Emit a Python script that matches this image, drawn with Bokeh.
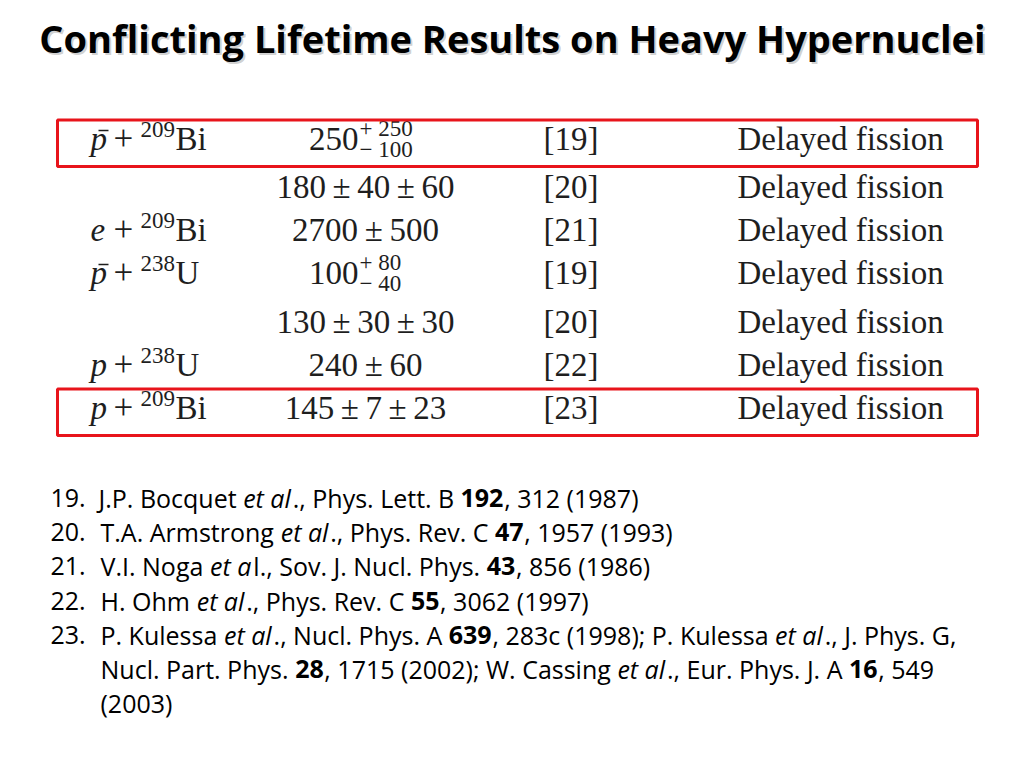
from bokeh.plotting import figure
from bokeh.models import Range1d
from bokeh.core.properties import value
from bokeh.embed import file_html
from bokeh.resources import INLINE

# ---------------- content ----------------
TITLE = "Conflicting Lifetime Results on Heavy Hypernuclei"

projectile = ["p", "", "e", "p", "", "p", "p"]
antiparticle = [True, False, False, True, False, False, False]
mass_number = ["209", "", "209", "238", "", "238", "209"]
target = ["Bi", "", "Bi", "U", "", "U", "Bi"]

lifetime_central = ["250", "180", "2700", "100", "130", "240", "145"]
lifetime_sym_err = [[], ["40", "60"], ["500"], [], ["30", "30"], ["60"], ["7", "23"]]
lifetime_err_up = ["250", "", "", "80", "", "", ""]
lifetime_err_down = ["100", "", "", "40", "", "", ""]

ref_tags = ["19", "20", "21", "19", "20", "22", "23"]
method = ["Delayed fission"] * 7
highlighted_rows = [0, 6]

ref_numbers = ["19.", "20.", "21.", "22.", "23."]
ref_lines = [
    [("J.P. Bocquet ", "n"), ("et al", "i"), ("., Phys. Lett. B ", "n"), ("192", "b"), (", 312 (1987)", "n")],
    [("T.A. Armstrong ", "n"), ("et al", "i"), ("., Phys. Rev. C ", "n"), ("47", "b"), (", 1957 (1993)", "n")],
    [("V.I. Noga ", "n"), ("et a", "i"), ("l., Sov. J. Nucl. Phys. ", "n"), ("43", "b"), (", 856 (1986)", "n")],
    [("H. Ohm ", "n"), ("et al", "i"), ("., Phys. Rev. C ", "n"), ("55", "b"), (", 3062 (1997)", "n")],
    [("P. Kulessa ", "n"), ("et al", "i"), ("., Nucl. Phys. A ", "n"), ("639", "b"),
     (", 283c (1998); P. Kulessa ", "n"), ("et al", "i"), ("., J. Phys. G,", "n")],
    [("Nucl. Part. Phys. ", "n"), ("28", "b"), (", 1715 (2002); W. Cassing ", "n"), ("et al", "i"),
     ("., Eur. Phys. J. A ", "n"), ("16", "b"), (", 549", "n")],
    [("(2003)", "n")],
]

# ---------------- layout ----------------
ROW_BASE = [151, 199, 242, 285, 334, 377, 420]
REF_BASE = [507, 541, 575, 610, 644, 678, 712]
REF_START = [98, 100, 100, 100, 100, 100, 100]
REF_SIZE = 25

SERIF = value("Liberation Serif")
SANS = value("Open Sans")
INK = "#1e1e1e"
THIN = "\u2009"
BASE_FIX = 0.38   # empirical baseline correction (fraction of font size)

# approximate Open Sans advance widths (em) for laying out mixed-style runs
_W = {" ": .260, ",": .245, ".": .266, ";": .266, ":": .266, "(": .296, ")": .296, "-": .322,
      "A": .633, "B": .648, "C": .631, "D": .729, "E": .556, "F": .516, "G": .728, "H": .738,
      "I": .279, "J": .267, "K": .614, "L": .519, "M": .903, "N": .754, "O": .779, "P": .602,
      "R": .618, "S": .549, "T": .553, "U": .728, "V": .595, "W": .920,
      "a": .556, "b": .613, "c": .476, "d": .613, "e": .561, "f": .339, "g": .548, "h": .614,
      "i": .253, "k": .525, "l": .253, "m": .930, "n": .614, "o": .600, "p": .613, "q": .613,
      "r": .408, "s": .477, "t": .353, "u": .614, "v": .501, "w": .778, "y": .501}


def run_width(s, style, size):
    w = sum(_W.get(c, .572) for c in s)
    if style == "b":
        w *= 1.02
    return w * size


p = figure(width=1008, height=752, x_range=Range1d(0, 1008), y_range=Range1d(752, 0),
           output_backend="svg", toolbar_location=None, min_border=0,
           x_axis_location=None, y_axis_location=None, outline_line_color=None,
           background_fill_color="white", border_fill_color="white")
p.xgrid.visible = False
p.ygrid.visible = False


def txt(x, y, s, size, font, style="normal", align="left", color=INK, alpha=1.0):
    p.text(x=[x], y=[y - BASE_FIX * size], text=[s], text_font=font, text_font_size=f"{size}px",
           text_font_style=style, text_align=align, text_baseline="alphabetic",
           text_color=color, text_alpha=alpha)


# title with soft shadow
txt(514, 54, TITLE, 38, value("Open Sans"), "bold", "center", "#888888", 0.4)
txt(512, 52, TITLE, 38, value("Open Sans"), "bold", "center", "#000000")

# table rows
for i, yb in enumerate(ROW_BASE):
    if projectile[i]:
        txt(90, yb, projectile[i], 33, SERIF, "italic")
        if antiparticle[i]:
            p.segment(x0=[98], y0=[yb - 21], x1=[108], y1=[yb - 21], line_color=INK, line_width=1.6)
        txt(113, yb, "+", 35, SERIF)
        txt(140, yb - 13, mass_number[i], 23, SERIF)
        txt(175, yb, target[i], 33, SERIF)
    # lifetime
    if lifetime_err_up[i]:
        txt(358, yb, lifetime_central[i], 33, SERIF, align="right")
        txt(359, yb - 14, "+ " + lifetime_err_up[i], 23, SERIF)
        txt(359, yb + 7, "\u2212 " + lifetime_err_down[i], 23, SERIF)
    else:
        parts = [lifetime_central[i]] + lifetime_sym_err[i]
        s = (THIN + "\u00b1" + THIN).join(parts)
        txt(365, yb, s, 33, SERIF, align="center")
    txt(543, yb, "[" + ref_tags[i] + "]", 33, SERIF)
    txt(737, yb, method[i], 33, SERIF)

# highlight boxes
for r in highlighted_rows:
    yb = ROW_BASE[r]
    p.quad(left=[57], right=[977], top=[yb - 31.5], bottom=[yb + 15],
           fill_alpha=0, line_color="#e8141b", line_width=3)

# references
style_map = {"n": "normal", "i": "italic", "b": "bold"}
for k, num in enumerate(ref_numbers):
    txt(50, REF_BASE[k], num, REF_SIZE, SANS, color="#000000")
for k, segs in enumerate(ref_lines):
    x = REF_START[k]
    for s, st in segs:
        txt(x, REF_BASE[k], s, REF_SIZE, SANS, style_map[st], color="#000000")
        x += run_width(s, st, REF_SIZE)

open("out.html", "w").write(file_html(p, INLINE))
